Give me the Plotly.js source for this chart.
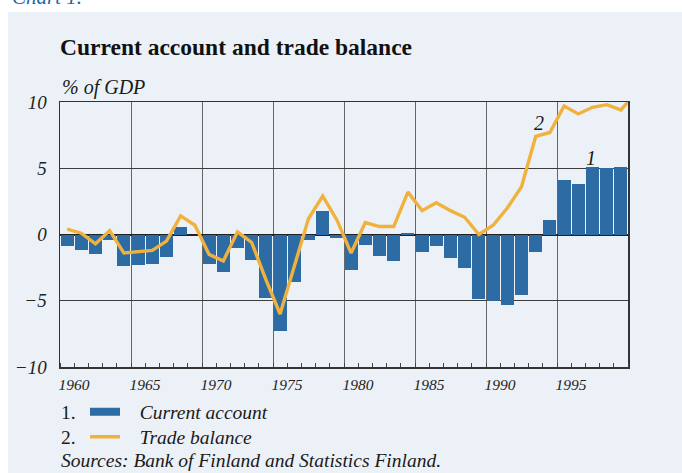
<!DOCTYPE html>
<html>
<head>
<meta charset="utf-8">
<script src="https://cdn.plot.ly/plotly-3.0.1.min.js"></script>
<style>html,body{margin:0;padding:0;background:#fff;}#chart{width:682px;height:473px;}</style>
</head>
<body>
<div id="chart"></div>
<script>
// Years 1960-2000 (2000 only partly visible for the trade balance line)
const years = [1960,1961,1962,1963,1964,1965,1966,1967,1968,1969,
               1970,1971,1972,1973,1974,1975,1976,1977,1978,1979,
               1980,1981,1982,1983,1984,1985,1986,1987,1988,1989,
               1990,1991,1992,1993,1994,1995,1996,1997,1998,1999,2000];
// 1. Current account, % of GDP
const currentAccount = [-0.9,-1.2,-1.5,-0.4,-2.4,-2.3,-2.2,-1.7,0.6,0.0,
                        -2.2,-2.8,-1.0,-1.9,-4.8,-7.3,-3.6,-0.4,1.8,-0.3,
                        -2.7,-0.8,-1.6,-2.0,0.1,-1.3,-0.9,-1.8,-2.5,-4.9,
                        -5.0,-5.3,-4.6,-1.3,1.1,4.1,3.8,5.1,5.0,5.1,null];
// 2. Trade balance, % of GDP
const tradeBalance = [0.4,0.1,-0.7,0.3,-1.4,-1.3,-1.2,-0.5,1.4,0.7,
                      -1.5,-2.0,0.2,-0.6,-3.4,-6.0,-2.5,1.2,2.9,1.1,
                      -1.4,0.9,0.6,0.6,3.2,1.8,2.4,1.8,1.3,0.0,
                      0.7,2.0,3.6,7.4,7.7,9.7,9.1,9.6,9.8,9.4,10.6];
const xTickVals = [1960,1965,1970,1975,1980,1985,1990,1995];
const xTickText = ['1960','1965','1970','1975','1980','1985','1990','1995'];
const yTickVals = [-10,-5,0,5,10];
const legendNames = ['Current account','Trade balance'];

const BLUE = '#2c6ba3', ORANGE = '#f0b13d', PANEL = '#ecf1f8';
const FONT = 'Liberation Serif, Times New Roman, serif';
const mid = years.map(y => y + 0.5);

const traces = [
  {type:'bar', x: mid, y: currentAccount, width: 0.92, marker:{color: BLUE, line:{width:0}},
   showlegend:false, hoverinfo:'x+y'},
  {type:'scatter', mode:'lines', x: mid, y: tradeBalance,
   line:{color: ORANGE, width:3.4}, showlegend:false},
  {type:'scatter', mode:'lines', x:[null], y:[null], name:'\u00a0\u00a0\u00a0' + legendNames[0],
   line:{color: BLUE, width:8}, legend:'legend', showlegend:true},
  {type:'scatter', mode:'lines', x:[null], y:[null], name:'\u00a0\u00a0\u00a0' + legendNames[1],
   line:{color: ORANGE, width:3.5}, legend:'legend2', showlegend:true}
];

const W = 568, H = 265, L = 60, T = 102;
const px = v => (v - L) / W;
const py = v => (T + H - v) / H;

const layout = {
  width: 682, height: 473,
  margin: {l: L, r: 682 - L - W, t: T, b: 473 - T - H, pad: 0},
  paper_bgcolor: '#ffffff',
  plot_bgcolor: PANEL,
  font: {family: FONT, color: '#1a1a1a'},
  bargap: 0,
  title: {text: 'Current account and trade balance', font:{family: FONT, size: 23.5, color:'#111', weight: 'bold'},
          xref:'paper', x: 0, xanchor:'left', yref:'container', y: 1 - 47/473, yanchor:'middle'},
  xaxis: {range:[1960, 2000], tickvals: xTickVals, ticktext: xTickText, ticks:'',
          showgrid:true, gridcolor:'#666666', gridwidth:1,
          showline:true, linecolor:'#333', linewidth:1.5, mirror:true,
          tickfont:{family: FONT, size:15.5, style:'italic', color:'#222'},
          ticklabelshift: 14, ticklabelstandoff: 3,
          minor:{dtick:1, tick0:1960, ticks:'inside', ticklen:4, tickcolor:'#444', tickwidth:1, showgrid:false},
          zeroline:false, fixedrange:true},
  yaxis: {range:[-10, 10], tickvals: yTickVals, ticks:'',
          showgrid:true, gridcolor:'#3c3c3c', gridwidth:1,
          zeroline:true, zerolinecolor:'#222', zerolinewidth:2,
          showline:true, linecolor:'#333', linewidth:1.5, mirror:true,
          tickfont:{family: FONT, size:19, style:'italic', color:'#222'},
          ticklabelstandoff: 8, fixedrange:true},
  legend: {x: px(85), xanchor:'left', y: py(412), yanchor:'middle', bgcolor:'rgba(0,0,0,0)',
           font:{family: FONT, size:19.5, style:'italic', color:'#1a1a1a'}, borderwidth:0},
  legend2: {x: px(85), xanchor:'left', y: py(437), yanchor:'middle', bgcolor:'rgba(0,0,0,0)',
           font:{family: FONT, size:19.5, style:'italic', color:'#1a1a1a'}, borderwidth:0},
  shapes: [
    {type:'rect', xref:'paper', yref:'paper', x0: px(8), x1: px(682), y0: py(473), y1: py(12),
     fillcolor: PANEL, line:{width:0}, layer:'below'}
  ],
  annotations: [
    {text:'Chart 1.', xref:'paper', yref:'paper', x: px(10), y: py(-3), xanchor:'left', yanchor:'middle',
     showarrow:false, font:{family: FONT, size:21, style:'italic', color:'#2a62a6'}},
    {text:'% of GDP', xref:'paper', yref:'paper', x: px(60), y: py(87), xanchor:'left', yanchor:'middle',
     showarrow:false, font:{family: FONT, size:20, style:'italic', color:'#1a1a1a'}},
    {text:'1', xref:'x', yref:'y', x: 1997.4, y: 5.8, showarrow:false,
     font:{family: FONT, size:20, style:'italic', color:'#1a1a1a'}},
    {text:'2', xref:'x', yref:'y', x: 1993.7, y: 8.4, showarrow:false,
     font:{family: FONT, size:20, style:'italic', color:'#1a1a1a'}},
    {text:'1.', xref:'paper', yref:'paper', x: px(59), y: py(412), xanchor:'left', yanchor:'middle',
     showarrow:false, font:{family: FONT, size:19.5, color:'#1a1a1a'}},
    {text:'2.', xref:'paper', yref:'paper', x: px(59), y: py(437), xanchor:'left', yanchor:'middle',
     showarrow:false, font:{family: FONT, size:19.5, color:'#1a1a1a'}},
    {text:'Sources: Bank of Finland and Statistics Finland.', xref:'paper', yref:'paper', x: px(59), y: py(460),
     xanchor:'left', yanchor:'middle', showarrow:false, font:{family: FONT, size:19.5, style:'italic', color:'#1a1a1a'}}
  ]
};

Plotly.newPlot('chart', traces, layout, {displayModeBar:false, staticPlot:true});
</script>
</body>
</html>
